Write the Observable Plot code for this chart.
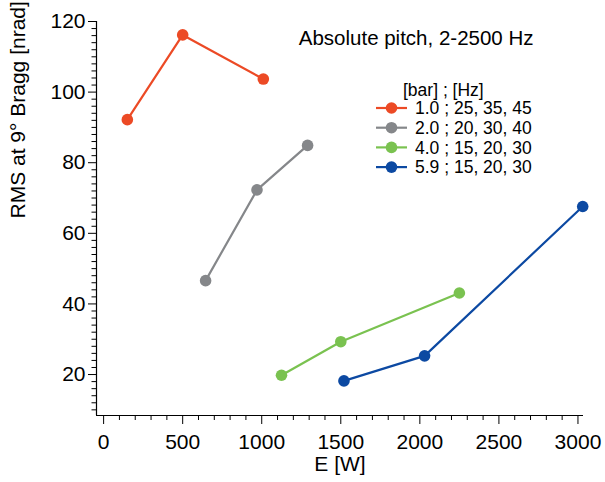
<!DOCTYPE html>
<html>
<head>
<meta charset="utf-8">
<script src="https://cdn.jsdelivr.net/npm/d3@7"></script>
<script src="https://cdn.jsdelivr.net/npm/@observablehq/plot@0.6"></script>
<style>
  html, body { margin: 0; padding: 0; background: #fff; }
  #chart { width: 605px; height: 482px; }
</style>
</head>
<body>
<div id="chart"></div>
<script>
const FONT = '"Liberation Sans", Arial, Helvetica, sans-serif';

const chartTitle = "Absolute pitch, 2-2500 Hz";
const xLabel = "E [W]";
const yLabel = "RMS at 9° Bragg [nrad]";
const legendHeader = "[bar] ; [Hz]";

const seriesLabels = ["1.0 ; 25, 35, 45", "2.0 ; 20, 30, 40", "4.0 ; 15, 20, 30", "5.9 ; 15, 20, 30"];
const seriesColors = ["#ec4a25", "#85878a", "#7ac250", "#0c49a2"];

const power1 = [150, 500, 1010];
const rms1 = [92.2, 116.2, 103.7];
const power2 = [645, 970, 1290];
const rms2 = [46.6, 72.3, 84.9];
const power3 = [1125, 1500, 2250];
const rms3 = [19.8, 29.3, 43.1];
const power4 = [1520, 2030, 3030];
const rms4 = [18.2, 25.3, 67.6];

const xMajorTicks = [0, 500, 1000, 1500, 2000, 2500, 3000];
const yMajorTicks = [20, 40, 60, 80, 100, 120];

const xDomain = [-45, 3035];
const yDomain = [8.4, 120];

const powers = [power1, power2, power3, power4];
const rmss = [rms1, rms2, rms3, rms4];
const data = [];
seriesLabels.forEach((s, i) => {
  powers[i].forEach((p, j) => data.push({series: s, power: p, rms: rmss[i][j]}));
});

const xMinor = d3.range(0, 3001, 100).filter(v => v % 500 !== 0);
const yMinor = d3.range(10, 121, 2).filter(v => v % 20 !== 0);
const fmt = d3.format("d");

const plot = Plot.plot({
  width: 605,
  height: 482,
  marginLeft: 96,
  marginRight: 22,
  marginTop: 21,
  marginBottom: 67,
  style: {fontFamily: FONT, background: "#fff", color: "#000"},
  x: {domain: xDomain, axis: null},
  y: {domain: yDomain, axis: null},
  color: {domain: seriesLabels, range: seriesColors},
  marks: [
    Plot.ruleX([xDomain[0]], {stroke: "#000", strokeWidth: 1.2}),
    Plot.ruleY([yDomain[0]], {stroke: "#000", strokeWidth: 1.2}),
    Plot.axisY({ticks: yMajorTicks, tickSize: 8, tickPadding: 3, fontSize: 21, tickFormat: fmt, label: null, stroke: "#000"}),
    Plot.axisY({ticks: yMinor, tickSize: 4.5, tickFormat: () => "", label: null, stroke: "#000"}),
    Plot.axisX({ticks: xMajorTicks, tickSize: 9, tickPadding: 10, fontSize: 21, tickFormat: fmt, label: null, stroke: "#000"}),
    Plot.axisX({ticks: xMinor, tickSize: 5, tickFormat: () => "", label: null, stroke: "#000"}),
    Plot.line(data, {x: "power", y: "rms", z: "series", stroke: "series", strokeWidth: 2.2}),
    Plot.dot(data, {x: "power", y: "rms", fill: "series", r: 5.8, stroke: null}),
    Plot.text([xLabel], {frameAnchor: "bottom", lineAnchor: "middle", dy: 49, fontSize: 21, fill: "#000"}),
    Plot.text([yLabel], {frameAnchor: "left", rotate: -90, dx: -78, fontSize: 21, fill: "#000"}),
    Plot.text([chartTitle], {frameAnchor: "top-right", textAnchor: "end", dx: -50, dy: 9, fontSize: 20.5, fill: "#000"})
  ]
});

document.getElementById("chart").appendChild(plot);

// Legend (drawn inside the SVG)
const svg = d3.select(plot);
const lg = svg.append("g").attr("font-family", FONT).attr("font-size", 17.5).attr("text-anchor", "start");
const lx = 376, ly = 90, rowH = 19.7;
lg.append("text").attr("x", 403).attr("y", ly).attr("dy", "0.35em").attr("text-anchor", "start").text(legendHeader);
seriesLabels.forEach((s, i) => {
  const y = ly + 18 + i * rowH;
  lg.append("line").attr("x1", lx).attr("x2", lx + 31).attr("y1", y).attr("y2", y)
    .attr("stroke", seriesColors[i]).attr("stroke-width", 2.2);
  lg.append("circle").attr("cx", lx + 15.5).attr("cy", y).attr("r", 5.8).attr("fill", seriesColors[i]);
  lg.append("text").attr("x", 415).attr("y", y).attr("dy", "0.35em").attr("text-anchor", "start").text(s);
});
</script>
</body>
</html>
